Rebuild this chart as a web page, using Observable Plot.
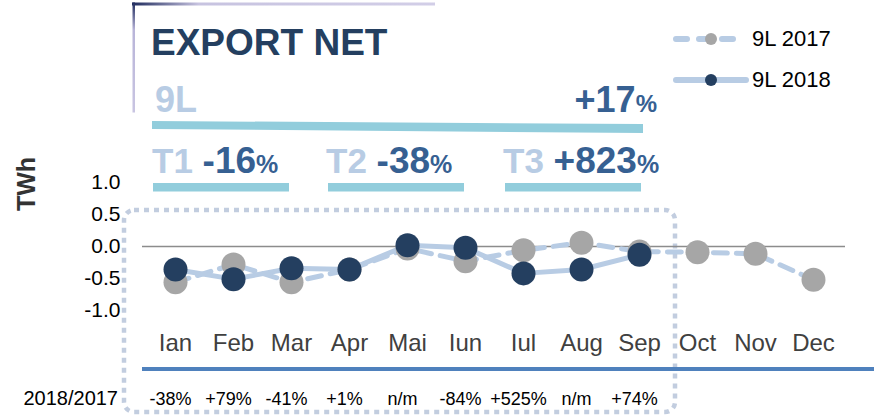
<!DOCTYPE html>
<html>
<head>
<meta charset="utf-8">
<script src="https://cdn.jsdelivr.net/npm/d3@7"></script>
<script src="https://cdn.jsdelivr.net/npm/@observablehq/plot@0.6"></script>
<style>
  html, body { margin: 0; padding: 0; background: #ffffff; }
  #chart svg { display: block; }
</style>
</head>
<body>
<div id="chart"></div>
<script>
// ---- data ----
const months = ["Ian","Feb","Mar","Apr","Mai","Iun","Iul","Aug","Sep","Oct","Nov","Dec"];
const v2017 = [-0.56,-0.28,-0.56,-0.36,-0.03,-0.23,-0.06,0.06,-0.08,-0.09,-0.115,-0.52];
const v2018 = [-0.36,-0.51,-0.34,-0.36,0.02,-0.02,-0.42,-0.36,-0.13];
const yoyLabels = ["-38%","+79%","-41%","+1%","n/m","-84%","+525%","n/m","+74%"];
const yTicks = [1.0, 0.5, 0.0, -0.5, -1.0];
const quarterNames = ["T1","T2","T3"];
const quarterChanges = ["-16","-38","+823"];
const ytdName = "9L";
const ytdChange = "+17";
const seriesNames = ["9L 2017","9L 2018"];
const titleText = "EXPORT NET";
const yLabel = "TWh";
const rowLabel = "2018/2017";

// ---- colors ----
const navy = "#243F60", midBlue = "#366092", lightBlue = "#B8CCE4", barCyan = "#92CDDC",
      grayDot = "#A6A6A6", dotted = "#C2CDDF", baseBlue = "#4F81BD";

const d2017 = months.map((m, i) => ({month: m, value: v2017[i]}));
const d2018 = v2018.map((v, i) => ({month: months[i], value: v}));
const dYoy = yoyLabels.map((t, i) => ({month: months[i], label: t}));

const font = "'Liberation Sans', Arial, sans-serif";

const chart = Plot.plot({
  width: 874,
  height: 419,
  marginLeft: 142,
  marginRight: 29,
  marginTop: 182,
  marginBottom: 109,
  x: {type: "point", domain: months, axis: null},
  y: {domain: [-1, 1], axis: null},
  style: {fontFamily: font, background: "transparent", overflow: "visible"},
  marks: [
    Plot.ruleY([0], {stroke: "#8C8C8C", strokeWidth: 1.5}),
    Plot.axisY({ticks: yTicks, tickFormat: d => d.toFixed(1), tickSize: 0, tickPadding: 22,
      fontSize: 21, fill: "#000", anchor: "left", label: null}),
    Plot.text(months, {x: d => d, frameAnchor: "bottom", dy: 33, fontSize: 24, fill: "#404040", lineAnchor: "middle"}),
    Plot.text(dYoy, {x: "month", text: "label", frameAnchor: "bottom", dy: 89, dx: -5, fontSize: 18, fill: "#000", lineAnchor: "middle"}),
    Plot.line(d2017, {x: "month", y: "value", stroke: lightBlue, strokeWidth: 5, strokeDasharray: "14,9", strokeLinecap: "round"}),
    Plot.line(d2018, {x: "month", y: "value", stroke: lightBlue, strokeWidth: 5, strokeLinecap: "round"}),
    Plot.dot(d2017, {x: "month", y: "value", r: 12, fill: grayDot}),
    Plot.dot(d2018, {x: "month", y: "value", r: 12, fill: navy})
  ]
});

document.getElementById("chart").appendChild(chart);

// ---- decorations ----
const svg = d3.select(chart);
const defs = svg.insert("defs", ":first-child");
const gTop = defs.append("linearGradient").attr("id", "gTop").attr("x1", "0").attr("x2", "1").attr("y1", "0").attr("y2", "0");
gTop.append("stop").attr("offset", "0").attr("stop-color", "#1E2A5C");
gTop.append("stop").attr("offset", "0.22").attr("stop-color", "#C7C3E0");
gTop.append("stop").attr("offset", "1").attr("stop-color", "#D2CEE7");
const gLeft = defs.append("linearGradient").attr("id", "gLeft").attr("x1", "0").attr("x2", "0").attr("y1", "0").attr("y2", "1");
gLeft.append("stop").attr("offset", "0").attr("stop-color", "#1E2A5C");
gLeft.append("stop").attr("offset", "0.25").attr("stop-color", "#B9B5D9");
gLeft.append("stop").attr("offset", "1").attr("stop-color", "#C9C5E2");

const deco = svg.insert("g", ":first-child").attr("font-family", font).attr("text-anchor", "start");

// dotted rounded box
deco.append("rect").attr("x", 124).attr("y", 210).attr("width", 551).attr("height", 202).attr("rx", 10)
  .attr("fill", "none").attr("stroke", dotted).attr("stroke-width", 4.5).attr("stroke-dasharray", "5,5");

// bottom blue line
deco.append("line").attr("x1", 142).attr("x2", 874).attr("y1", 369).attr("y2", 369)
  .attr("stroke", baseBlue).attr("stroke-width", 4);

// title frame
deco.append("rect").attr("x", 132).attr("y", 2.5).attr("width", 303).attr("height", 3).attr("fill", "url(#gTop)");
deco.append("rect").attr("x", 132.5).attr("y", 2.5).attr("width", 2.5).attr("height", 110).attr("fill", "url(#gLeft)");

// title
deco.append("text").attr("x", 151).attr("y", 55).attr("font-size", 37).attr("font-weight", "bold")
  .attr("fill", navy).text(titleText);

// 9L line
deco.append("text").attr("x", 155).attr("y", 112).attr("font-size", 36).attr("font-weight", "bold")
  .attr("fill", lightBlue).text(ytdName);
const ytd = deco.append("text").attr("x", 657).attr("y", 112).attr("text-anchor", "end")
  .attr("font-weight", "bold").attr("fill", midBlue);
ytd.append("tspan").attr("font-size", 36).text(ytdChange);
ytd.append("tspan").attr("font-size", 24).text("%");
deco.append("polygon").attr("points", "152,121 643,124 643,133 152,129").attr("fill", barCyan);

// quarter labels
const qx = [152, 326, 503];
const qbar = [[153, 289], [328, 464], [505, 641]];
quarterNames.forEach((q, i) => {
  const t = deco.append("text").attr("x", qx[i]).attr("y", 173).attr("font-weight", "bold");
  t.append("tspan").attr("font-size", 35).attr("fill", lightBlue).text(q + " ");
  t.append("tspan").attr("font-size", 37).attr("fill", midBlue).text(quarterChanges[i]);
  t.append("tspan").attr("font-size", 25).attr("fill", midBlue).text("%");
  deco.append("rect").attr("x", qbar[i][0]).attr("y", 183).attr("width", qbar[i][1] - qbar[i][0])
    .attr("height", 8.5).attr("fill", barCyan);
});

// y label
deco.append("text").attr("transform", "translate(35,184) rotate(-90)").attr("text-anchor", "middle")
  .attr("font-size", 25).attr("font-weight", "bold").attr("fill", "#333333").text(yLabel);

// row label
deco.append("text").attr("x", 118).attr("y", 405).attr("text-anchor", "end")
  .attr("font-size", 20).attr("fill", "#000").text(rowLabel);

// legend
const leg = svg.append("g").attr("font-family", font).attr("text-anchor", "start");
leg.append("line").attr("x1", 676).attr("x2", 737).attr("y1", 39).attr("y2", 39)
  .attr("stroke", lightBlue).attr("stroke-width", 6).attr("stroke-dasharray", "11,12")
  .attr("stroke-linecap", "round");
leg.append("circle").attr("cx", 711).attr("cy", 39).attr("r", 6).attr("fill", grayDot);
leg.append("line").attr("x1", 676).attr("x2", 746).attr("y1", 80).attr("y2", 80)
  .attr("stroke", lightBlue).attr("stroke-width", 6).attr("stroke-linecap", "round");
leg.append("circle").attr("cx", 711).attr("cy", 80).attr("r", 6).attr("fill", navy);
leg.append("text").attr("x", 752).attr("y", 46).attr("font-size", 22).attr("fill", "#000").text(seriesNames[0]);
leg.append("text").attr("x", 752).attr("y", 87).attr("font-size", 22).attr("fill", "#000").text(seriesNames[1]);
</script>
</body>
</html>
